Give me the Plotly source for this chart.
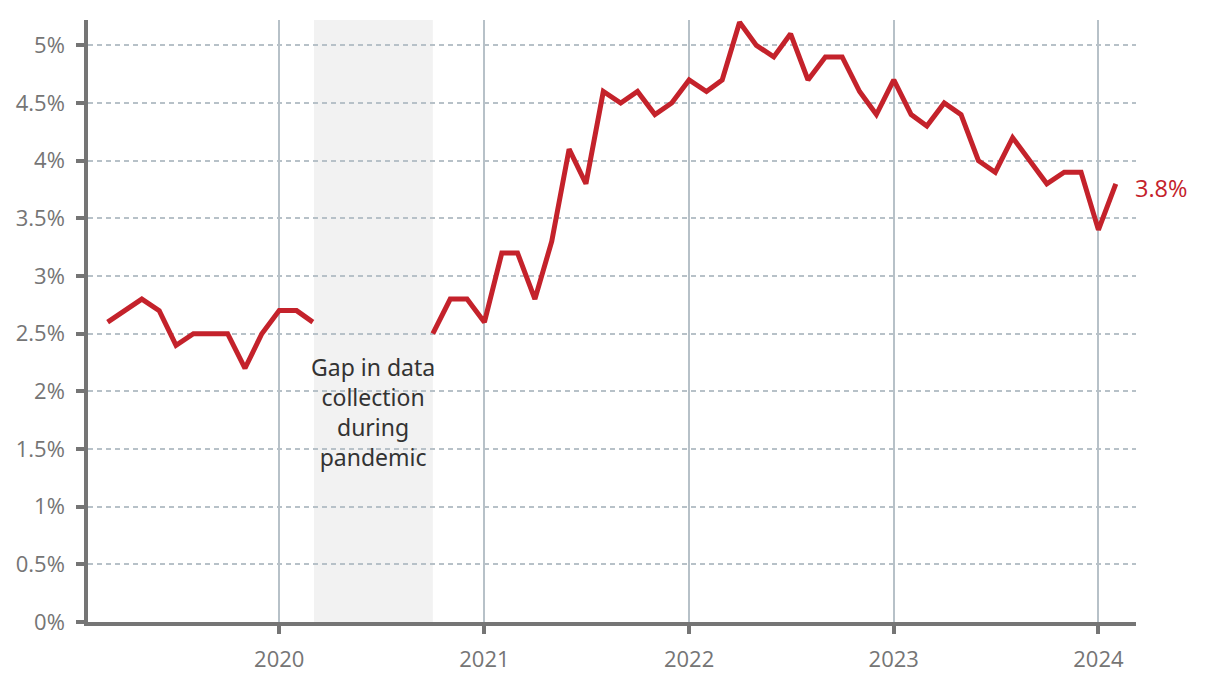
import plotly.graph_objects as go

months = [
    "2019-03-01", "2019-04-01", "2019-05-01", "2019-06-01", "2019-07-01", "2019-08-01",
    "2019-09-01", "2019-10-01", "2019-11-01", "2019-12-01", "2020-01-01", "2020-02-01",
    "2020-03-01", "2020-04-01", "2020-05-01", "2020-06-01", "2020-07-01", "2020-08-01",
    "2020-09-01", "2020-10-01", "2020-11-01", "2020-12-01", "2021-01-01", "2021-02-01",
    "2021-03-01", "2021-04-01", "2021-05-01", "2021-06-01", "2021-07-01", "2021-08-01",
    "2021-09-01", "2021-10-01", "2021-11-01", "2021-12-01", "2022-01-01", "2022-02-01",
    "2022-03-01", "2022-04-01", "2022-05-01", "2022-06-01", "2022-07-01", "2022-08-01",
    "2022-09-01", "2022-10-01", "2022-11-01", "2022-12-01", "2023-01-01", "2023-02-01",
    "2023-03-01", "2023-04-01", "2023-05-01", "2023-06-01", "2023-07-01", "2023-08-01",
    "2023-09-01", "2023-10-01", "2023-11-01", "2023-12-01", "2024-01-01", "2024-02-01",
]
rate = [
    2.6, 2.7, 2.8, 2.7, 2.4, 2.5,
    2.5, 2.5, 2.2, 2.5, 2.7, 2.7,
    2.6, None, None, None, None, None,
    None, 2.5, 2.8, 2.8, 2.6, 3.2,
    3.2, 2.8, 3.3, 4.1, 3.8, 4.6,
    4.5, 4.6, 4.4, 4.5, 4.7, 4.6,
    4.7, 5.2, 5.0, 4.9, 5.1, 4.7,
    4.9, 4.9, 4.6, 4.4, 4.7, 4.4,
    4.3, 4.5, 4.4, 4.0, 3.9, 4.2,
    4.0, 3.8, 3.9, 3.9, 3.4, 3.8,
]
gap_start = "2020-03-03"
gap_end = "2020-10-01"
gap_text = "Gap in data<br>collection<br>during<br>pandemic"
year_ticks = ["2020-01-01", "2021-01-01", "2022-01-01", "2023-01-01", "2024-01-01"]
year_labels = ["2020", "2021", "2022", "2023", "2024"]
y_ticks = [0, 0.5, 1, 1.5, 2, 2.5, 3, 3.5, 4, 4.5, 5]
y_labels = ["0%", "0.5%", "1%", "1.5%", "2%", "2.5%", "3%", "3.5%", "4%", "4.5%", "5%"]

RED = "#c4222b"
GRID = "#b7c1c8"
AXIS = "#757575"

fig = go.Figure()
fig.add_trace(go.Scatter(
    x=months, y=rate, mode="lines", connectgaps=False,
    line=dict(color=RED, width=5), hoverinfo="skip", showlegend=False,
))

fig.add_shape(type="rect", xref="x", yref="paper", x0=gap_start, x1=gap_end,
              y0=0, y1=1, fillcolor="#f2f2f2", line_width=0, layer="below")

fig.add_annotation(x="2020-06-17", y=1.82, xref="x", yref="y", text=gap_text,
                   showarrow=False, font=dict(family="Noto Sans", size=23, color="#333333"),
                   align="center")

fig.add_annotation(x=months[-1], y=rate[-1], xref="x", yref="y", text="3.8%",
                   showarrow=False, xanchor="left", xshift=17, yshift=-4,
                   font=dict(family="Open Sans", size=23.5, color=RED))

fig.update_layout(
    width=1220, height=682,
    margin=dict(l=88, r=84, t=20, b=60, autoexpand=False),
    paper_bgcolor="white", plot_bgcolor="white",
    font=dict(family="Open Sans", size=22, color=AXIS),
)
fig.update_xaxes(
    type="date", range=["2019-01-25", "2024-03-08"],
    tickvals=year_ticks, ticktext=year_labels,
    showgrid=True, gridcolor=GRID, gridwidth=1.5,
    showline=True, linecolor=AXIS, linewidth=3.5,
    ticks="outside", ticklen=8, tickwidth=3.5, tickcolor=AXIS,
    ticklabelstandoff=7, zeroline=False, automargin=False,
)
fig.update_yaxes(
    range=[0, 5.22], tickvals=y_ticks, ticktext=y_labels,
    showgrid=True, gridcolor=GRID, gridwidth=1.5, griddash="5px,4px",
    showline=True, linecolor=AXIS, linewidth=3.5,
    ticks="outside", ticklen=8, tickwidth=3.5, tickcolor=AXIS,
    ticklabelstandoff=7, zeroline=False, automargin=False,
)

fig.write_html("out.html", config={"displayModeBar": False},
               post_script="document.body.style.margin='0';document.body.style.overflow='hidden';")
